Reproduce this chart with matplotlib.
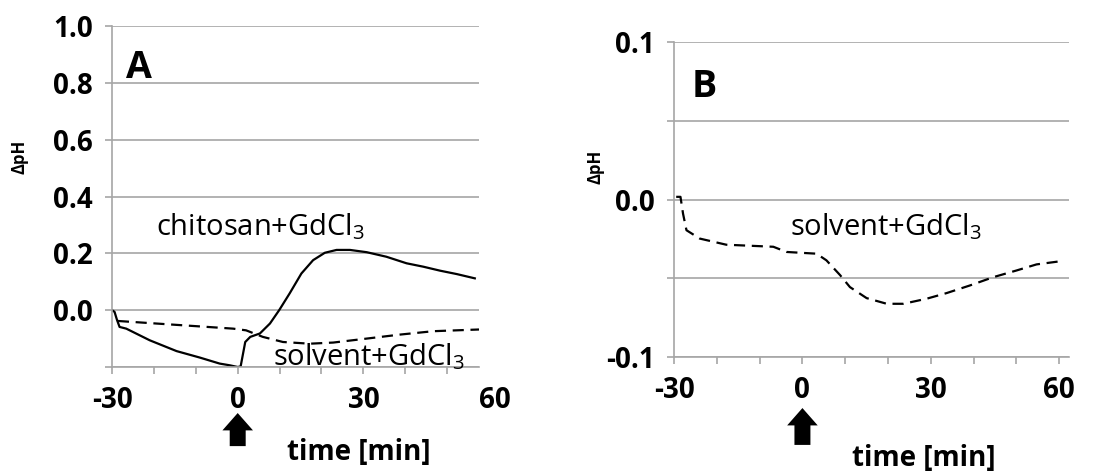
import matplotlib
matplotlib.use("Agg")
import matplotlib.pyplot as plt
from matplotlib import font_manager as fm
from matplotlib.ticker import MultipleLocator

# panel A, chitosan + GdCl3 (solid)
a_chi_t = [-30, -29.4, -28.8, -28.2, -26.6, -21, -14.6, -9, -4.3, -1.9, 0, 0.7, 1.8, 3, 5.3,
           7.7, 9.9, 12.4, 15.2, 18, 20.8, 23.6, 26.8, 30.8, 35.5, 40.3, 44.3, 48.3, 52.3, 56.6]
a_chi_v = [0.0, -0.006, -0.035, -0.059, -0.065, -0.106, -0.144, -0.167, -0.188, -0.194, -0.2,
           -0.198, -0.112, -0.094, -0.082, -0.047, 0.0, 0.059, 0.129, 0.176, 0.202, 0.212, 0.212,
           0.204, 0.188, 0.165, 0.153, 0.139, 0.127, 0.112]
# panel A, solvent + GdCl3 (dashed)
a_sol_t = [-28.6, -1.1, 2, 6, 10.8, 17.2, 22.8, 30.8, 38.7, 46.7, 57.6]
a_sol_v = [-0.038, -0.065, -0.071, -0.094, -0.112, -0.118, -0.114, -0.1, -0.086, -0.074, -0.068]
# panel B, solvent + GdCl3 (dashed)
b_sol_t = [-29.5, -28.5, -27.9, -27.1, -24, -17.8, -6.8, -3.7, 3.3, 5.6, 8.8, 11.1, 15, 19.7,
           23.6, 29, 33.7, 39.1, 44.6, 50.1, 54.7, 60]
b_sol_v = [0.0017, 0.0017, -0.009, -0.0195, -0.0248, -0.0287, -0.030, -0.0333, -0.0344, -0.0386,
           -0.048, -0.0556, -0.0626, -0.0662, -0.0662, -0.063, -0.0594, -0.0546, -0.0493, -0.045,
           -0.0412, -0.0393]

a_ylabels = [0.0, 0.2, 0.4, 0.6, 0.8, 1.0]
b_ylabels = [-0.1, 0.0, 0.1]
x_labels = [-30, 0, 30, 60]


def pick_family(cands):
    # first family that has a bold face installed
    for fam in cands:
        ws = [f.weight for f in fm.fontManager.ttflist if f.name == fam]
        if any(w in ("bold", 700, "heavy", 800) or (isinstance(w, int) and w >= 700) for w in ws):
            return fam
    return "DejaVu Sans"


FAM = pick_family(["Open Sans", "Lato", "Noto Sans"])
plt.rcParams["font.family"] = [FAM, "DejaVu Sans"]
plt.rcParams["mathtext.fontset"] = "custom"
plt.rcParams["mathtext.rm"] = FAM
GRID = "#a6a6a6"
TICK_FS = 20
TICK_LEN, TICK_PAD = 5, 9

fig = plt.figure(figsize=(11.07, 4.73), dpi=100)
axA = fig.add_axes([0.1012, 0.2241, 0.3315, 0.7209])
axB = fig.add_axes([0.6089, 0.2452, 0.3568, 0.666])


def style(ax, xmax, ymin, ymax, grid_step, labels):
    ax.set_xlim(-30, xmax)
    ax.set_ylim(ymin, ymax)
    for s in ("top", "right"):
        ax.spines[s].set_visible(False)
    for s in ("left", "bottom"):
        ax.spines[s].set_color(GRID)
        ax.spines[s].set_linewidth(1.2)
    ax.yaxis.set_major_locator(MultipleLocator(grid_step))
    ax.yaxis.grid(True, color=GRID, lw=1.2)
    ax.set_axisbelow(True)
    ax.tick_params(axis="y", length=TICK_LEN, color=GRID, width=1.2, labelsize=TICK_FS, pad=TICK_PAD)
    ax.set_yticklabels([f"{v:.1f}" if any(abs(v - l) < 1e-9 for l in labels) else ""
                        for v in ax.get_yticks()], fontweight="bold")
    ax.set_xticks([t for t in range(-30, 61, 10) if t <= xmax])
    ax.tick_params(axis="x", length=TICK_LEN, color=GRID, width=1.2, labelsize=TICK_FS, pad=TICK_PAD)
    ax.set_xticklabels([str(t) if t in x_labels else "" for t in ax.get_xticks()],
                       fontweight="bold")
    ax.set_ylabel("ΔpH", fontsize=12, fontweight="bold")


style(axA, 57.6, -0.2, 1.0, 0.2, a_ylabels)
style(axB, 62.3, -0.1, 0.1, 0.05, b_ylabels)
axA.yaxis.set_label_coords(-0.227, 0.616)
axB.yaxis.set_label_coords(-0.177, 0.603)

# the "60" label of panel A sits past the end of its axis
axA.annotate("60", xy=(61.4, 0), xycoords=axA.get_xaxis_transform(),
             xytext=(0, -(TICK_LEN + TICK_PAD)), textcoords="offset points",
             ha="center", va="top", fontsize=TICK_FS, fontweight="bold",
             annotation_clip=False)

axA.plot(a_chi_t, a_chi_v, color="black", lw=1.6)
axA.plot(a_sol_t, a_sol_v, color="black", lw=1.6, dashes=(5, 3))
axB.plot(b_sol_t, b_sol_v, color="black", lw=1.6, dashes=(5, 3))

axA.text(-26.7, 0.817, "A", fontsize=27, fontweight="bold", va="baseline")
axB.text(-25.8, 0.065, "B", fontsize=27, fontweight="bold", va="baseline")
axA.text(-19.5, 0.265, "chitosan+GdCl$_3$", fontsize=21, va="baseline")
axA.text(8.4, -0.193, "solvent+GdCl$_3$", fontsize=21, va="baseline")
axB.text(-2.9, -0.0225, "solvent+GdCl$_3$", fontsize=21, va="baseline")

arrow = dict(arrowstyle="simple,head_width=2.2,head_length=1.25,tail_width=1.15",
             mutation_scale=10, color="black", lw=0, shrinkA=0, shrinkB=0)
for ax, tip, tail in ((axA, -0.135, -0.232), (axB, -0.162, -0.279)):
    tr = ax.get_xaxis_transform()
    ax.annotate("", xy=(0, tip), xytext=(0, tail), xycoords=tr, textcoords=tr,
                annotation_clip=False, arrowprops=arrow)

fig.text(287 / 1107, 1 - 452 / 473, "time [min]", fontsize=20, fontweight="bold", va="center")
fig.text(852 / 1107, 1 - 458 / 473, "time [min]", fontsize=20, fontweight="bold", va="center")

fig.savefig("out.png", dpi=100)
